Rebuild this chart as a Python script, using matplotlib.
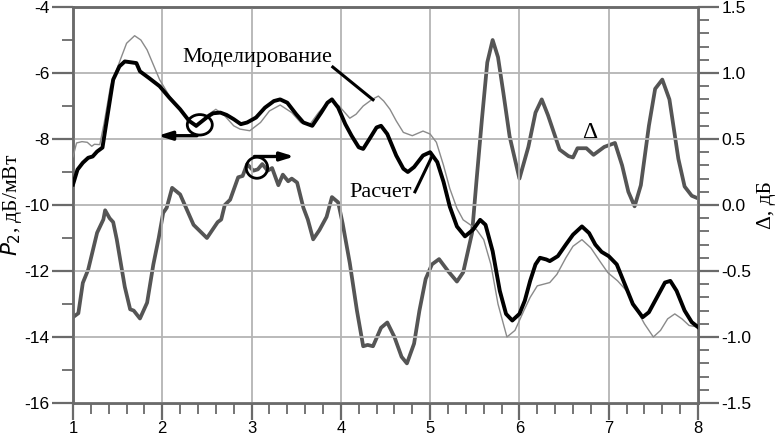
import numpy as np
import matplotlib
matplotlib.use("Agg")
import matplotlib.pyplot as plt
from matplotlib.patches import Ellipse
from matplotlib.ticker import MultipleLocator

# --- data ---
# Расчет (calculation), left axis
calc_x = [1.00, 1.05, 1.11, 1.17, 1.22, 1.27, 1.33, 1.38, 1.45, 1.52, 1.58, 1.66, 1.71,
          1.75, 1.85, 1.97, 2.08, 2.20, 2.30, 2.38, 2.45, 2.52, 2.57, 2.65, 2.72, 2.80,
          2.88, 2.95, 3.05, 3.15, 3.25, 3.32, 3.40, 3.50, 3.58, 3.68, 3.78, 3.85, 3.90,
          3.97, 4.05, 4.12, 4.20, 4.25, 4.32, 4.40, 4.45, 4.52, 4.62, 4.70, 4.75, 4.82,
          4.92, 5.00, 5.08, 5.15, 5.22, 5.30, 5.39, 5.48, 5.56, 5.62, 5.70, 5.78, 5.85,
          5.92, 6.00, 6.06, 6.12, 6.18, 6.23, 6.30, 6.34, 6.43, 6.52, 6.60, 6.70, 6.78,
          6.85, 6.92, 7.00, 7.09, 7.18, 7.27, 7.38, 7.45, 7.55, 7.63, 7.69, 7.76, 7.85,
          7.93, 8.00]
calc_y = [-9.38, -8.93, -8.72, -8.57, -8.53, -8.38, -8.26, -7.40, -6.20, -5.80, -5.65, -5.68, -5.70,
          -5.95, -6.15, -6.40, -6.75, -7.10, -7.45, -7.60, -7.45, -7.30, -7.22, -7.20, -7.27, -7.40,
          -7.55, -7.50, -7.35, -7.05, -6.85, -6.80, -6.90, -7.25, -7.50, -7.60, -7.20, -6.90, -6.80,
          -7.05, -7.55, -7.90, -8.25, -8.30, -8.00, -7.65, -7.60, -7.85, -8.50, -8.90, -9.00, -8.85,
          -8.50, -8.40, -8.70, -9.30, -10.05, -10.65, -10.95, -10.75, -10.45, -10.60, -11.40, -12.60, -13.30,
          -13.50, -13.30, -12.90, -12.30, -11.80, -11.60, -11.65, -11.70, -11.55, -11.20, -10.90, -10.65, -10.85,
          -11.20, -11.42, -11.55, -11.80, -12.40, -13.00, -13.40, -13.25, -12.75, -12.35, -12.30, -12.60, -13.20,
          -13.55, -13.70]

# Моделирование (simulation), left axis
model_x = [1.00, 1.04, 1.10, 1.16, 1.21, 1.24, 1.30, 1.35, 1.42, 1.53, 1.60, 1.69, 1.76,
           1.83, 1.90, 1.97, 2.08, 2.20, 2.30, 2.38, 2.45, 2.52, 2.60, 2.70, 2.80, 2.87,
           2.98, 3.10, 3.20, 3.32, 3.45, 3.55, 3.65, 3.75, 3.85, 3.90, 3.98, 4.10, 4.17,
           4.25, 4.35, 4.42, 4.48, 4.55, 4.62, 4.70, 4.80, 4.92, 5.00, 5.07, 5.15, 5.22,
           5.30, 5.37, 5.45, 5.52, 5.60, 5.68, 5.76, 5.86, 5.95, 6.05, 6.12, 6.20, 6.34,
           6.42, 6.52, 6.60, 6.70, 6.80, 6.90, 6.99, 7.10, 7.20, 7.30, 7.40, 7.50, 7.58,
           7.66, 7.74, 7.82, 7.90, 8.00]
model_y = [-8.54, -8.12, -8.08, -8.10, -8.22, -8.16, -8.17, -7.50, -6.40, -5.60, -5.10, -4.87, -5.00,
           -5.30, -5.75, -6.20, -6.70, -7.10, -7.45, -7.65, -7.45, -7.25, -7.10, -7.30, -7.60, -7.70,
           -7.75, -7.50, -7.15, -6.97, -7.20, -7.50, -7.57, -7.20, -6.90, -6.85, -7.00, -7.37, -7.25,
           -7.00, -6.80, -6.70, -6.85, -7.10, -7.45, -7.80, -7.90, -7.76, -7.85, -8.10, -8.80, -9.50,
           -10.10, -10.45, -10.60, -10.75, -11.05, -11.80, -13.00, -14.00, -13.80, -13.20, -12.80, -12.45, -12.35,
           -12.10, -11.60, -11.25, -11.05, -11.30, -11.70, -12.05, -12.30, -12.60, -13.10, -13.60, -14.00, -13.80,
           -13.45, -13.30, -13.45, -13.65, -13.70]

# Δ, right axis
delta_x = [1.00, 1.06, 1.11, 1.17, 1.27, 1.34, 1.36, 1.41, 1.45, 1.49, 1.58, 1.64, 1.68,
           1.75, 1.83, 1.90, 1.96, 2.01, 2.05, 2.11, 2.20, 2.35, 2.50, 2.62, 2.66, 2.70,
           2.76, 2.85, 2.90, 2.95, 3.02, 3.07, 3.12, 3.18, 3.23, 3.30, 3.35, 3.41, 3.45,
           3.51, 3.58, 3.63, 3.69, 3.76, 3.84, 3.90, 3.97, 4.02, 4.10, 4.18, 4.25, 4.30,
           4.36, 4.45, 4.52, 4.60, 4.68, 4.74, 4.82, 4.88, 4.95, 5.02, 5.10, 5.20, 5.30,
           5.37, 5.47, 5.52, 5.58, 5.64, 5.70, 5.76, 5.82, 5.89, 6.00, 6.10, 6.18, 6.25,
           6.32, 6.45, 6.55, 6.60, 6.65, 6.75, 6.83, 6.95, 7.07, 7.15, 7.22, 7.29, 7.36,
           7.45, 7.52, 7.60, 7.68, 7.78, 7.85, 7.93, 8.00]
delta_y = [-0.85, -0.82, -0.59, -0.49, -0.21, -0.11, -0.04, -0.10, -0.13, -0.26, -0.62, -0.79, -0.80,
           -0.86, -0.74, -0.45, -0.25, -0.06, -0.02, 0.13, 0.08, -0.15, -0.25, -0.13, -0.11, 0.00,
           0.04, 0.21, 0.22, 0.31, 0.26, 0.27, 0.31, 0.26, 0.28, 0.15, 0.23, 0.18, 0.20,
           0.17, -0.02, -0.11, -0.26, -0.19, -0.09, 0.06, 0.02, -0.14, -0.44, -0.80, -1.07, -1.06,
           -1.07, -0.93, -0.89, -1.00, -1.15, -1.20, -1.05, -0.80, -0.56, -0.45, -0.41, -0.50, -0.58,
           -0.51, -0.21, 0.19, 0.65, 1.08, 1.25, 1.12, 0.85, 0.52, 0.20, 0.44, 0.70, 0.80,
           0.68, 0.42, 0.37, 0.36, 0.43, 0.43, 0.38, 0.44, 0.47, 0.30, 0.10, -0.01, 0.15,
           0.60, 0.88, 0.95, 0.80, 0.35, 0.14, 0.07, 0.05]

x_ticks = [1, 2, 3, 4, 5, 6, 7, 8]
left_ticks = [-16, -14, -12, -10, -8, -6, -4]
right_ticks = [-1.5, -1.0, -0.5, 0.0, 0.5, 1.0, 1.5]

SANS = "Liberation Sans"
SERIF = "Liberation Serif"
AX_COL = "#6a6a6a"

fig = plt.figure(figsize=(7.77, 4.40), dpi=100)
ax = fig.add_axes([73 / 777, 1 - 403 / 440, 625 / 777, 396 / 440])
ax2 = ax.twinx()

ax.set_xlim(1, 8)
ax.set_ylim(-16, -4)
ax2.set_ylim(-1.5, 1.5)

ax.grid(True, color="#b4b4b4", linewidth=1.3)
ax.set_axisbelow(True)

ax.plot(model_x, model_y, color="#8a8a8a", linewidth=1.0, zorder=3)
ax.plot(calc_x, calc_y, color="black", linewidth=2.8, zorder=4)
ax2.plot(delta_x, delta_y, color="#555555", linewidth=2.7, zorder=3)

# ticks
ax.set_xticks(x_ticks)
ax.xaxis.set_minor_locator(MultipleLocator(0.2))
ax.set_yticks(left_ticks)
ax.yaxis.set_minor_locator(MultipleLocator(1))
ax.set_yticklabels([str(v) for v in left_ticks])
ax2.set_yticks(right_ticks)
ax2.yaxis.set_minor_locator(MultipleLocator(0.1))
ax2.set_yticklabels(["%.1f" % v for v in right_ticks])

for a in (ax, ax2):
    for s in a.spines.values():
        s.set_color(AX_COL)
        s.set_linewidth(1.8)
    a.tick_params(which="major", direction="out", length=15, width=1.6, color=AX_COL,
                  labelsize=12.5, pad=2)
    a.tick_params(which="minor", direction="out", length=8, width=1.3, color=AX_COL)
    for lab in a.get_xticklabels() + a.get_yticklabels():
        lab.set_family(SANS)
ax.tick_params(axis="x", which="major", length=12, pad=1, labelsize=12)
ax.tick_params(axis="x", which="minor", length=8)

ax.set_ylabel("$\\mathit{P}_2$, дБ/мВт", family=SERIF, fontsize=15.5, labelpad=0)
ax2.set_ylabel("Δ, дБ", family=SERIF, fontsize=15.5, labelpad=4)

# annotations
ax.text(3.06, -5.52, "Моделирование", family=SERIF, fontsize=16, ha="center", va="center", zorder=6)
ax.plot([3.91, 4.36], [-5.82, -6.81], color="black", linewidth=2.2, zorder=5)
ax.text(4.44, -9.63, "Расчет", family=SERIF, fontsize=16, ha="center", va="center", zorder=6)
ax.plot([4.83, 5.02], [-9.6, -8.53], color="black", linewidth=2.2, zorder=5)
ax.text(6.79, -7.81, "Δ", family=SERIF, fontsize=17, ha="center", va="center", zorder=6)

ax.add_patch(Ellipse((2.42, -7.57), 0.28, 0.62, fill=False, edgecolor="black", linewidth=2.0, zorder=6))
ax.add_patch(Ellipse((3.06, -8.87), 0.24, 0.64, fill=False, edgecolor="black", linewidth=2.0, zorder=6))
ax.annotate("", xy=(1.92, -7.9), xytext=(2.42, -7.9),
            arrowprops=dict(arrowstyle="-|>,head_length=0.8,head_width=0.25", color="black", lw=2.4),
            zorder=6)
ax.annotate("", xy=(3.51, -8.53), xytext=(3.0, -8.53),
            arrowprops=dict(arrowstyle="-|>,head_length=0.8,head_width=0.25", color="black", lw=2.4),
            zorder=6)

ax2.set_zorder(ax.get_zorder() - 1)
ax.patch.set_visible(False)

fig.savefig("out.png", dpi=100)
